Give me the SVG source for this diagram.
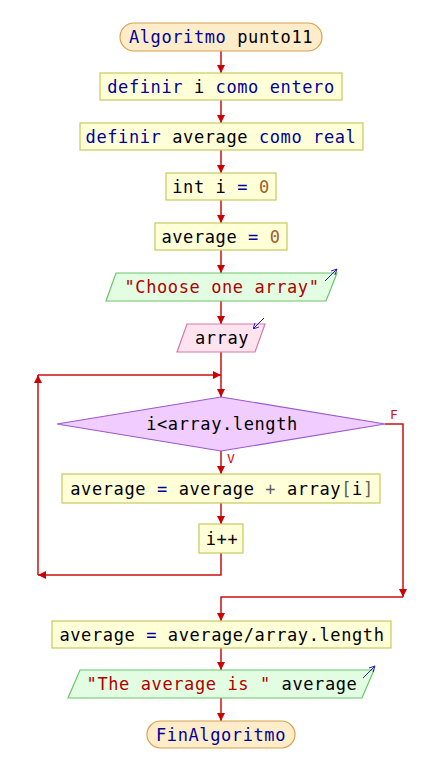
<svg xmlns="http://www.w3.org/2000/svg" width="435" height="781" viewBox="0 0 435 781">
<defs>
<style>
text{font-family:"DejaVu Sans Mono","Liberation Mono",monospace;font-size:17px;letter-spacing:0.6px;text-anchor:middle;fill:#000}
.kw{fill:#00009c}
.num{fill:#a0602a}
.str{fill:#b00000}
.op{fill:#606060}
.term{fill:#ffecc8;stroke:#d8a050;stroke-width:1.2}
.proc{fill:#ffffd8;stroke:#c8c860;stroke-width:1.2}
.out{fill:#e2fde2;stroke:#6cc46c;stroke-width:1.2}
.in{fill:#ffe4f0;stroke:#d878a8;stroke-width:1.2}
.dec{fill:#f0ccff;stroke:#9a58cc;stroke-width:1.2}
.ln{fill:none;stroke:#cc1010;stroke-width:1.5}
.ico{stroke:#2020c0;stroke-width:1;fill:none}
.lbl{fill:#dd1010;font-size:13px;letter-spacing:0}
</style>
<marker id="m" viewBox="0 0 10 10" refX="10" refY="5" markerWidth="8" markerHeight="8" markerUnits="userSpaceOnUse" orient="auto"><path d="M0,0 L10,5 L0,10 z" fill="#cc0000"/></marker>
<marker id="mi" viewBox="0 0 10 10" refX="10" refY="5" markerWidth="6" markerHeight="6" markerUnits="userSpaceOnUse" orient="auto"><path d="M0,0 L10,5 L0,10" fill="none" stroke="#2020c0" stroke-width="1.5"/></marker>
</defs>
<rect width="435" height="781" fill="#fff"/>
<g id="connectors">
<line class="ln" x1="221" y1="51" x2="221" y2="73" marker-end="url(#m)"/>
<line class="ln" x1="221" y1="100" x2="221" y2="123" marker-end="url(#m)"/>
<line class="ln" x1="221" y1="150" x2="221" y2="173" marker-end="url(#m)"/>
<line class="ln" x1="221" y1="200" x2="221" y2="223" marker-end="url(#m)"/>
<line class="ln" x1="221" y1="250" x2="221" y2="273" marker-end="url(#m)"/>
<line class="ln" x1="221" y1="301" x2="221" y2="324" marker-end="url(#m)"/>
<line class="ln" x1="221" y1="352" x2="221" y2="397" marker-end="url(#m)"/>
<line class="ln" x1="221" y1="451" x2="221" y2="474" marker-end="url(#m)"/>
<line class="ln" x1="221" y1="503" x2="221" y2="524" marker-end="url(#m)"/>
<polyline class="ln" points="221,553 221,575 38,575" marker-end="url(#m)"/>
<line class="ln" x1="38" y1="575" x2="38" y2="375" marker-end="url(#m)"/>
<line class="ln" x1="38" y1="375" x2="221" y2="375" marker-end="url(#m)"/>
<polyline class="ln" points="385,424 403,424 403,597" marker-end="url(#m)"/>
<polyline class="ln" points="403,597 221,597 221,621" marker-end="url(#m)"/>
<line class="ln" x1="221" y1="648" x2="221" y2="670" marker-end="url(#m)"/>
<line class="ln" x1="221" y1="698" x2="221" y2="721" marker-end="url(#m)"/>
<text class="lbl" x="394" y="419">F</text>
<text class="lbl" x="231" y="463">V</text>
</g>
<g id="start">
<rect class="term" x="120" y="23" width="202" height="28" rx="14"/>
<text x="221" y="43"><tspan class="kw">Algoritmo</tspan> punto11</text>
</g>
<g id="def-i">
<rect class="proc" x="100" y="73" width="242" height="27"/>
<text x="221" y="92.5"><tspan class="kw">definir</tspan> i <tspan class="kw">como entero</tspan></text>
</g>
<g id="def-average">
<rect class="proc" x="80" y="123" width="283" height="27"/>
<text x="221" y="142.5"><tspan class="kw">definir</tspan> average <tspan class="kw">como real</tspan></text>
</g>
<g id="int-i">
<rect class="proc" x="166" y="173" width="110" height="27"/>
<text x="221" y="192.5">int i <tspan class="kw">=</tspan> <tspan class="num">0</tspan></text>
</g>
<g id="avg-zero">
<rect class="proc" x="155" y="223" width="132" height="27"/>
<text x="221" y="242.5">average <tspan class="kw">=</tspan> <tspan class="num">0</tspan></text>
</g>
<g id="out-choose">
<polygon class="out" points="116,273 337,273 326,301 106,301"/>
<line class="ico" x1="325" y1="281" x2="337" y2="269" marker-end="url(#mi)"/>
<text x="222" y="293" class="str">"Choose one array"</text>
</g>
<g id="in-array">
<polygon class="in" points="187,324 265,324 255,352 177,352"/>
<line class="ico" x1="264" y1="318" x2="253" y2="329" marker-end="url(#mi)"/>
<text x="222" y="343.5">array</text>
</g>
<g id="cond">
<polygon class="dec" points="221,397 385,424 221,451 57,424"/>
<text x="222" y="430">i&lt;array.length</text>
</g>
<g id="sum">
<rect class="proc" x="62" y="474" width="318" height="29"/>
<text x="222" y="494.5">average <tspan class="kw">=</tspan> average <tspan class="op">+</tspan> array<tspan class="op">[</tspan>i<tspan class="op">]</tspan></text>
</g>
<g id="inc">
<rect class="proc" x="199" y="524" width="44" height="29"/>
<text x="222" y="544.5">i++</text>
</g>
<g id="avg-div">
<rect class="proc" x="52" y="621" width="339" height="27"/>
<text x="222" y="640.5">average <tspan class="kw">=</tspan> average/array.length</text>
</g>
<g id="out-result">
<polygon class="out" points="80,670 374,670 362,698 68,698"/>
<line class="ico" x1="363" y1="678" x2="375" y2="666" marker-end="url(#mi)"/>
<text x="222" y="689.5"><tspan class="str">"The average is "</tspan> average</text>
</g>
<g id="end">
<rect class="term" x="147" y="721" width="148" height="27" rx="13.5"/>
<text x="221" y="740.5" class="kw">FinAlgoritmo</text>
</g>
</svg>
